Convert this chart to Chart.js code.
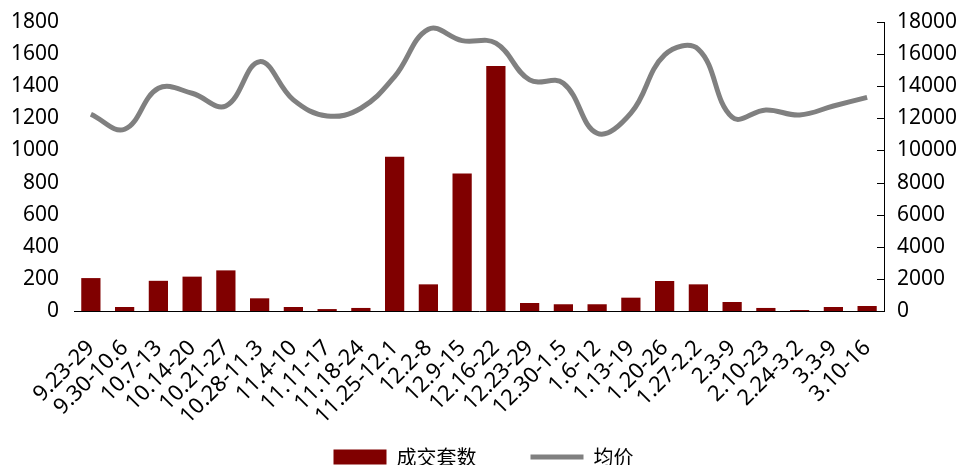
<!DOCTYPE html>
<html>
<head>
<meta charset="utf-8">
<script src="https://cdn.jsdelivr.net/npm/chart.js@4"></script>
<style>
  html, body { margin: 0; padding: 0; background: #fff; overflow: hidden; }
  #wrap { width: 963px; height: 477px; position: relative; }
</style>
</head>
<body>
<div id="wrap"><canvas id="deal-chart"></canvas></div>
<script>
const weeks = ["9.23-29", "9.30-10.6", "10.7-13", "10.14-20", "10.21-27", "10.28-11.3",
    "11.4-10", "11.11-17", "11.18-24", "11.25-12.1", "12.2-8", "12.9-15", "12.16-22",
    "12.23-29", "12.30-1.5", "1.6-12", "1.13-19", "1.20-26", "1.27-2.2", "2.3-9",
    "2.10-23", "2.24-3.2", "3.3-9", "3.10-16"];

const dealCount = [205, 25, 188, 214, 253, 79, 25, 12, 19, 961, 166, 857, 1526,
    50, 42, 42, 83, 187, 166, 56, 19, 6, 25, 31];

const avgPrice = [12250, 11320, 13870, 13560, 12770, 15530, 13150, 12150, 12630,
    14600, 17550, 16840, 16680, 14390, 14190, 11070, 12320, 15950, 16300, 12070,
    12520, 12210, 12770, 13310];

const leftTicks = { min: 0, max: 1800, step: 200 };
const rightTicks = { min: 0, max: 18000, step: 2000 };

// short tick marks pointing into the plot on the right axis
const innerTicks = {
    id: "innerTicks",
    afterDraw(chart) {
        const axis = chart.scales.y2;
        const ctx = chart.ctx;
        ctx.save();
        ctx.strokeStyle = "#000";
        ctx.lineWidth = 1;
        axis.ticks.forEach((t) => {
            const y = Math.round(axis.getPixelForValue(t.value)) + 0.5;
            ctx.beginPath();
            ctx.moveTo(axis.left - 7, y);
            ctx.lineTo(axis.left, y);
            ctx.stroke();
        });
        ctx.restore();
    },
};

const plain = (v) => String(v);

// fixed axis widths so the plot spans the same box as the original
const fixWidth = (w) => (scale) => {
    scale.width = w;
    scale.paddingTop = 0;
    scale.paddingBottom = 0;
};

const dealContext = document.getElementById("deal-chart");

const dealData = {
    labels: weeks,
    datasets: [
        {
            type: "bar",
            label: "成交套数",
            data: dealCount,
            backgroundColor: "#800000",
            borderWidth: 0,
            barPercentage: 0.57,
            categoryPercentage: 1,
            pointStyle: "rect",
            yAxisID: "y",
            order: 2,
        },
        {
            type: "line",
            label: "均价",
            data: avgPrice,
            borderColor: "#808080",
            backgroundColor: "#808080",
            borderWidth: 5,
            pointRadius: 0,
            tension: 0.4,
            pointStyle: "line",
            yAxisID: "y2",
            order: 1,
        },
    ],
};

const dealConfig = {
    data: dealData,
    plugins: [innerTicks],
    options: {
        responsive: true,
        maintainAspectRatio: false,
        animation: false,
        layout: { padding: { top: 22, left: 10, right: 6, bottom: 0 } },
        plugins: {
            tooltip: { enabled: false },
            legend: {
                position: "bottom",
                // empty title with negative padding: keeps the wide item gap
                // without pushing the items down
                title: { display: true, text: "", font: { size: 10 }, padding: { top: 0, bottom: -40 } },
                labels: {
                    usePointStyle: true,
                    pointStyleWidth: 53,
                    boxHeight: 15,
                    padding: 54,
                    color: "#000",
                    font: { family: "'Noto Sans CJK SC', 'Noto Sans'", size: 20 },
                    sort: (a, b) => a.datasetIndex - b.datasetIndex,
                },
            },
        },
        scales: {
            x: {
                grid: { display: false },
                border: { color: "#000", width: 1 },
                // rotated labels should not push the plot around
                afterFit: (scale) => {
                    scale.paddingLeft = 0;
                    scale.paddingRight = 0;
                    scale.height = 110;
                },
                ticks: {
                    color: "#000",
                    minRotation: 45,
                    maxRotation: 45,
                    autoSkip: false,
                    padding: 16,
                    font: { family: "'Noto Sans'", size: 22 },
                },
            },
            y: {
                position: "left",
                min: leftTicks.min,
                max: leftTicks.max,
                grid: { display: false, drawTicks: false },
                border: { display: false },
                afterFit: fixWidth(64),
                ticks: {
                    stepSize: leftTicks.step,
                    callback: plain,
                    color: "#000",
                    padding: 15,
                    font: { family: "'Noto Sans'", size: 21 },
                },
            },
            y2: {
                position: "right",
                min: rightTicks.min,
                max: rightTicks.max,
                grid: { display: false, drawTicks: false },
                border: { color: "#000", width: 1 },
                afterFit: fixWidth(73),
                ticks: {
                    stepSize: rightTicks.step,
                    callback: plain,
                    color: "#000",
                    padding: 13,
                    font: { family: "'Noto Sans'", size: 21 },
                },
            },
        },
    },
};

const dealChart = new Chart(dealContext, dealConfig);
</script>
</body>
</html>
